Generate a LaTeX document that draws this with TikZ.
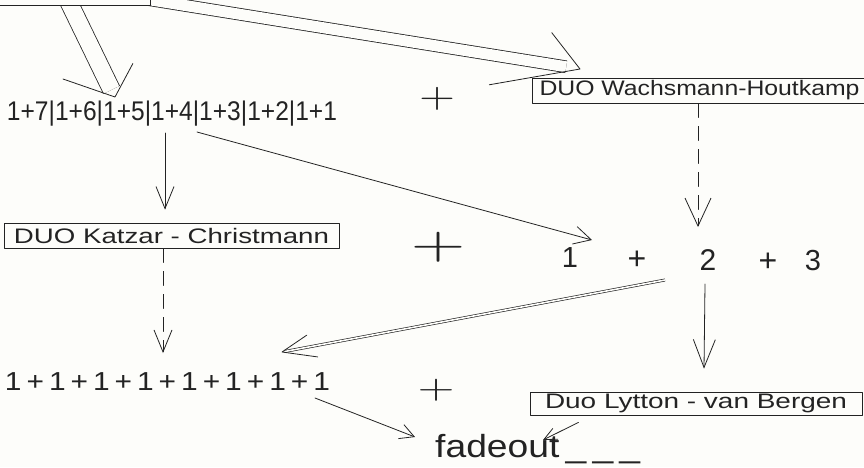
\documentclass[tikz,border=0pt]{standalone}
\usepackage{fontspec}
\setmainfont{Liberation Sans}
\usepackage{graphicx}
\usetikzlibrary{arrows.meta,calc}
\definecolor{ink}{RGB}{35,35,35}
\definecolor{paper}{RGB}{253,253,250}
\newcommand\hw[2]{\resizebox{#1}{\height}{#2}}
\newcommand\vhead[6]{\draw[inkline] ($(#1)!#3!#4:(#2)$) -- (#1) -- ($(#1)!#5!#6:(#2)$);}
\begin{document}
\begin{tikzpicture}[x=1pt,y=-1pt,line cap=round,line join=round,
  inkline/.style={draw=ink,line width=0.8pt},
  box/.style={inkline,rectangle,inner sep=0pt,text=ink,font=\fontsize{21}{21}\selectfont},
  txt/.style={inner sep=0pt,text=ink,anchor=base},
  bigplus/.style={inner sep=0pt,text=ink},
  barb/.style 2 args={inkline,-{Straight Barb[length=#1,width=#2]}},
  dashy/.style={dash pattern=on 14pt off 9pt},
  dbl/.style={inkline,line cap=butt,double=paper,double distance=#1}
]
\fill[paper] (0,0) rectangle (864,467);
\useasboundingbox (0,0) rectangle (864,467);
\clip (0,0) rectangle (864,467);

% ---- text nodes
\node[txt,font=\fontsize{27}{27}\selectfont] (seqa) at (172,120) {\hw{330pt}{1+7|1+6|1+5|1+4|1+3|1+2|1+1}};
\node[box,minimum width=348pt,minimum height=25pt] (wach) at (706,90.5) {\hspace*{-13pt}\hw{320pt}{DUO Wachsmann-Houtkamp}};
\node[box,minimum width=335pt,minimum height=25pt] (katz) at (171.5,235.5) {\hw{315pt}{DUO Katzar - Christmann}};
\node[box,minimum width=332pt,minimum height=23pt] (lyt) at (696,403.5) {\hw{302pt}{Duo Lytton - van Bergen}};
\node[txt,font=\fontsize{26}{26}\selectfont] (seqc) at (167.5,390) {\hw{325pt}{1\,+\,1\,+\,1\,+\,1\,+\,1\,+\,1\,+\,1\,+\,1}};
\node[txt,font=\fontsize{29}{29}\selectfont] (one) at (570,267) {1};
\node[txt,font=\fontsize{32}{32}\selectfont] (pa) at (637,269) {+};
\node[txt,font=\fontsize{30}{30}\selectfont] (two) at (708,270) {2};
\node[txt,font=\fontsize{32}{32}\selectfont] (pb) at (768,271) {+};
\node[txt,font=\fontsize{29}{29}\selectfont] (three) at (813,270) {3};
\node[txt,anchor=base west,font=\fontsize{32}{32}\selectfont] (fade) at (435,457) {\hw{205pt}{fadeout\,\_\,\_\,\_}};
\node[bigplus] (p1) at (437,99) {\resizebox*{36pt}{23pt}{$+$}};
\node[bigplus] (p2) at (438,247) {\resizebox*{55pt}{30pt}{$+$}};
\node[bigplus] (p3) at (436,390) {\resizebox*{37pt}{22pt}{$+$}};

% ---- connector ports
\coordinate (sL) at (64,-8);   \coordinate (tL) at (115,97);
\coordinate (sR) at (120,-5);  \coordinate (tR) at (580,69);
\coordinate (dS) at (665,280); \coordinate (dT) at (282,352);

% ---- double arrows from the top box
\draw[dbl=17pt,shorten >=8pt] (sL) -- (tL);
\vhead{tL}{sL}{55pt}{45}{38pt}{-54}
\draw[dbl=11pt,shorten >=14pt] (sR) -- (tR);
\vhead{tR}{sR}{46pt}{-43}{92pt}{19}

% ---- top box (partly off the page)
\node[box,fill=paper,minimum width=170pt,minimum height=40pt] (top) at (65,-15) {};

% ---- single arrows
\draw[barb={22pt}{18pt}] ([shift={(-7,13)}]seqa.base) -- ([shift={(-6.5,-13)}]katz.north);
\draw[barb={17pt}{18pt}] ([shift={(25,12)}]seqa.base) -- ([shift={(22,-27)}]one.base);
\draw[barb={28pt}{26pt},dashy] ([xshift=-8pt]wach.south) -- ([shift={(-10,-43)}]two.base);
\draw[barb={22pt}{18pt},dashy] ([xshift=-8.5pt]katz.south) -- ([shift={(-4.5,-37)}]seqc.base);
\draw[barb={28pt}{22pt}] ([shift={(-3,14)}]two.base) -- ([shift={(8,-23)}]lyt.north);
\draw[barb={14pt}{15pt}] ([shift={(147.5,8)}]seqc.base) -- ([shift={(-20,-20)}]fade.base west);
\draw[barb={13pt}{12pt}] ([shift={(-284,7)}]lyt.south east) -- ([shift={(108,-17)}]fade.base west);

% ---- thin double arrow from 2 to the row of ones
\draw[dbl=1.6pt,line width=0.65pt,shorten >=3pt] (dS) -- (dT);
\vhead{dT}{dS}{30pt}{23.6}{36pt}{-18.5}
\end{tikzpicture}
\end{document}
